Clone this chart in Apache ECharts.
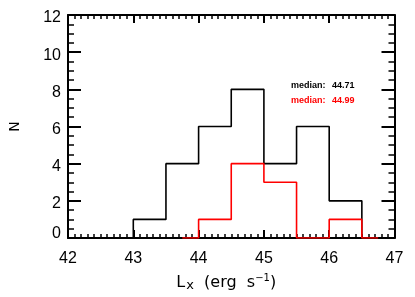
<!DOCTYPE html>
<html><head><meta charset="utf-8">
<script src="https://cdn.jsdelivr.net/npm/echarts@6/dist/echarts.min.js"></script>
<style>html,body{margin:0;padding:0;background:#fff}#c{width:415px;height:297px}</style>
</head><body><div id="c"></div>
<script>
// Bin centres (IDL psym=10 style histogram) and counts
const blackCenters = [42.75, 43.25, 43.75, 44.25, 44.75, 45.25, 45.75, 46.25, 46.75];
const blackCounts  = [0, 1, 4, 6, 8, 4, 6, 2, 0];
const redCenters   = [43.75, 44.25, 44.75, 45.25, 45.75, 46.25, 46.75];
const redCounts    = [0, 1, 4, 3, 0, 1, 0];
const medianLabel  = 'median:';
const medians      = [44.71, 44.99];
const xTicks = [42, 43, 44, 45, 46, 47];
const yTicks = [0, 2, 4, 6, 8, 10, 12];

const font = 'Liberation Sans, Arial, sans-serif';
const tfont = 'DejaVu Sans, sans-serif';
const chart = echarts.init(document.getElementById('c'), null, {renderer: 'canvas'});

function axisCommon(labelOn, minorSplit, majLen, minLen, margin) {
  return {
    axisLine: {show: true, onZero: false, lineStyle: {color: '#000', width: 2}},
    axisTick: {show: true, inside: true, length: majLen, lineStyle: {color: '#000', width: 2}},
    minorTick: {show: true, splitNumber: minorSplit, length: minLen, lineStyle: {color: '#000', width: 1.5}},
    splitLine: {show: false},
    axisLabel: {show: labelOn, color: '#000', fontFamily: font, fontSize: 16, margin: margin || 8}
  };
}

const pair = (xs, ys) => xs.map((x, i) => [x, ys[i]]);

const yAxisLeft = Object.assign({type: 'value', position: 'left', min: yTicks[0], max: yTicks[yTicks.length-1], interval: 2,
  name: 'N', nameLocation: 'middle', nameGap: 46, nameRotate: 90,
  nameTextStyle: {color: '#000', fontFamily: tfont, fontSize: 14}
}, axisCommon(true, 4, 13, 6, 7));
yAxisLeft.axisLabel.formatter = v => (v === 0 ? '{z|' + v + '}' : '{d|' + v + '}');
yAxisLeft.axisLabel.rich = {
  z: {fontFamily: font, fontSize: 16, color: '#000', padding: [0, 0, 9, 0]},
  d: {fontFamily: font, fontSize: 16, color: '#000', padding: [6, 0, 0, 0]}
};

chart.setOption({
  animation: false,
  grid: {left: 62.7, right: 20.5, top: 15, bottom: 54.3, containLabel: false},
  xAxis: [
    Object.assign({type: 'value', position: 'bottom', min: xTicks[0], max: xTicks[xTicks.length-1], interval: 1,
      name: '{l|L}{sub|x}{l|  (erg  s}{sup|−1}{l|)}', nameLocation: 'middle', nameGap: 35,
      nameTextStyle: {color: '#000', fontFamily: tfont, fontSize: 16, padding: [0, 10, 0, 0],
        rich: {l: {fontFamily: tfont, fontSize: 16, color: '#000'},
               sub: {fontFamily: tfont, fontSize: 13, color: '#000', verticalAlign: 'bottom', padding: [6,0,0,1]},
               sup: {fontFamily: tfont, fontSize: 10, color: '#000', verticalAlign: 'top', padding: [0,0,8,0]}}}
    }, axisCommon(true, 10, 8, 4, 13)),
    Object.assign({type: 'value', position: 'top', min: xTicks[0], max: xTicks[xTicks.length-1], interval: 1},
      axisCommon(false, 10, 8, 4))
  ],
  yAxis: [
    yAxisLeft,
    Object.assign({type: 'value', position: 'right', min: yTicks[0], max: yTicks[yTicks.length-1], interval: 2},
      axisCommon(false, 4, 13, 6))
  ],
  series: [
    {type: 'line', step: 'middle', xAxisIndex: 0, yAxisIndex: 0, symbol: 'none', clip: true,
     data: pair(blackCenters, blackCounts), lineStyle: {color: '#000', width: 1.6}, z: 3},
    {type: 'line', step: 'middle', xAxisIndex: 0, yAxisIndex: 0, symbol: 'none', clip: true,
     data: pair(redCenters, redCounts), lineStyle: {color: '#ff0000', width: 1.6}, z: 4}
  ],
  graphic: [
    {type: 'text', x: 291, y: 86, style: {text: medianLabel, fill: '#000', font: 'bold 9px ' + font, verticalAlign: 'middle'}},
    {type: 'text', x: 332, y: 86, style: {text: medians[0].toFixed(2), fill: '#000', font: 'bold 9px ' + font, verticalAlign: 'middle'}},
    {type: 'text', x: 291, y: 101, style: {text: medianLabel, fill: '#ff0000', font: 'bold 9px ' + font, verticalAlign: 'middle'}},
    {type: 'text', x: 332, y: 101, style: {text: medians[1].toFixed(2), fill: '#ff0000', font: 'bold 9px ' + font, verticalAlign: 'middle'}}
  ]
});
</script></body></html>
